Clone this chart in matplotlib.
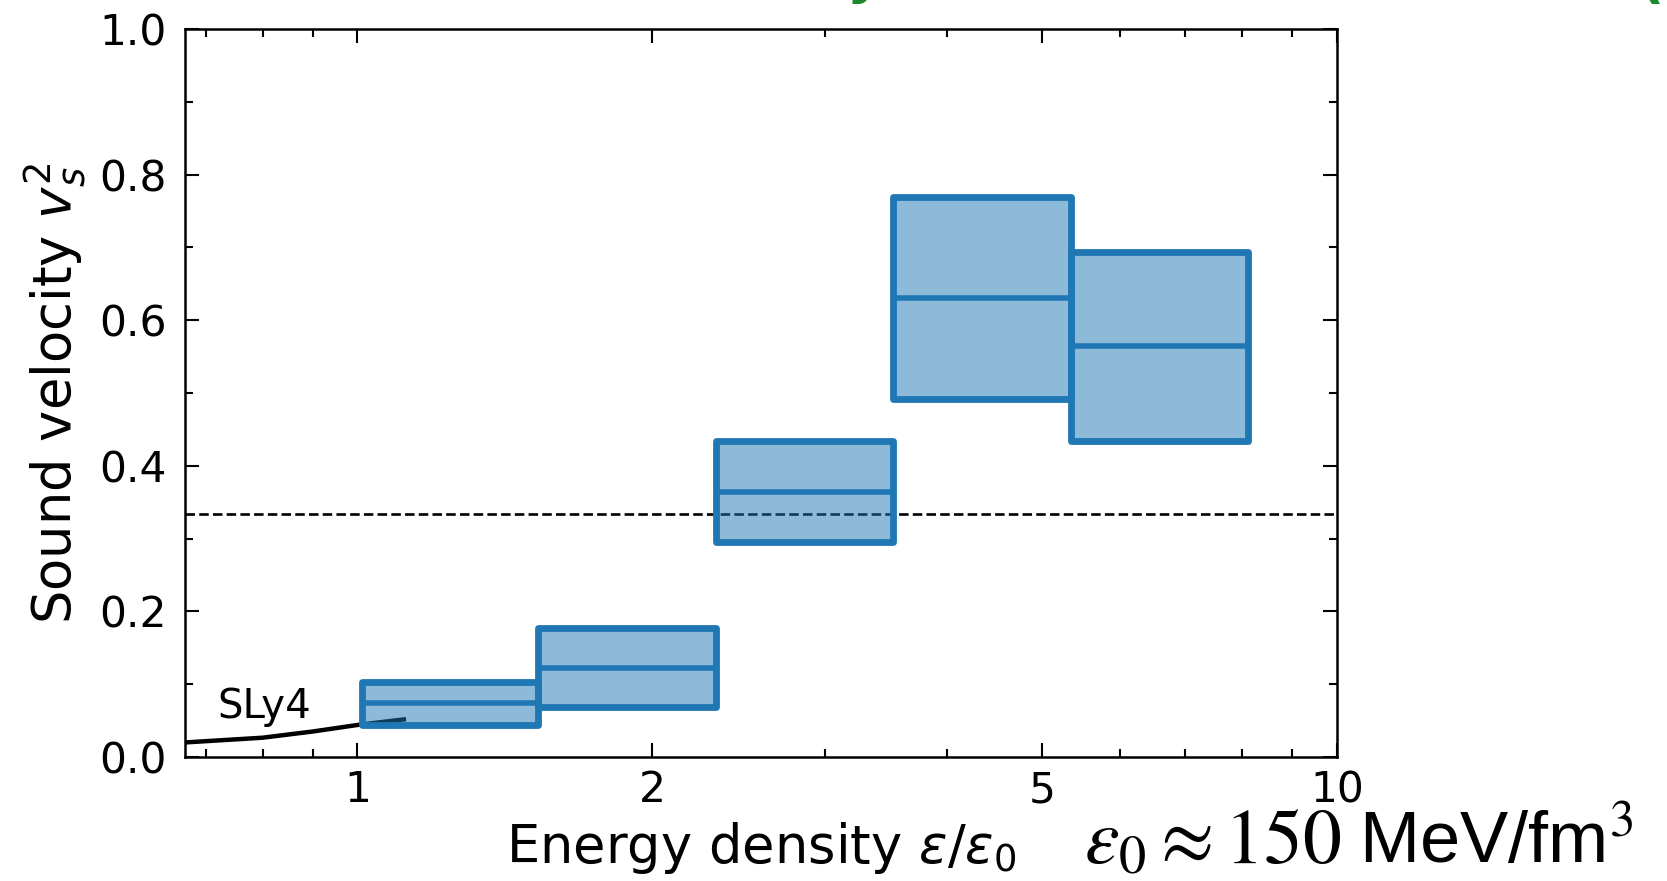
import matplotlib
matplotlib.use("Agg")
import matplotlib.pyplot as plt
from matplotlib.patches import Rectangle
from matplotlib.ticker import MultipleLocator, FixedLocator, NullFormatter

# ---- data ----
bin_edges = [1.01, 1.528, 2.323, 3.525, 5.35, 8.12]
vs2_low = [0.044, 0.068, 0.295, 0.492, 0.4345]
vs2_mid = [0.0737, 0.1227, 0.3644, 0.630, 0.5646]
vs2_high = [0.1034, 0.1768, 0.434, 0.7688, 0.694]

sly4_x = [0.667, 0.8, 0.9, 1.0, 1.121]
sly4_y = [0.020, 0.0265, 0.035, 0.044, 0.052]

conformal = 1.0 / 3.0
x_ticks = [1, 2, 5, 10]
x_ticklabels = ["1", "2", "5", "10"]
y_ticks = [0.0, 0.2, 0.4, 0.6, 0.8, 1.0]
y_ticklabels = ["0.0", "0.2", "0.4", "0.6", "0.8", "1.0"]

W, H = 1667, 881
fig = plt.figure(figsize=(W / 100, H / 100), dpi=100)
ax = fig.add_axes([185 / W, 1 - 757 / H, (1337 - 185) / W, (757 - 29) / H])
ax.set_xscale("log")
ax.set_xlim(2 / 3, 10)
ax.set_ylim(0, 1)

C0 = "#1f77b4"
ax.plot(sly4_x, sly4_y, color="black", lw=3.2, zorder=1, solid_capstyle="butt")
ax.text(0.719, 0.054, "SLy4", fontsize=29, ha="left", va="baseline")

ax.axhline(conformal, color="black", lw=1.9, ls=(0, (3.6, 1.6)), zorder=1.5)

for i in range(len(vs2_mid)):
    x0, x1 = bin_edges[i], bin_edges[i + 1]
    lo, hi, mid = vs2_low[i], vs2_high[i], vs2_mid[i]
    ax.add_patch(Rectangle((x0, lo), x1 - x0, hi - lo, facecolor=C0, alpha=0.5,
                           edgecolor="none", zorder=2))
    ax.add_patch(Rectangle((x0, lo), x1 - x0, hi - lo, fill=False, edgecolor=C0,
                           lw=4.9, joinstyle="round", zorder=3))
    ax.plot([x0, x1], [mid, mid], color=C0, lw=4.0, zorder=3, solid_capstyle="butt")

ax.xaxis.set_major_locator(FixedLocator(x_ticks))
ax.set_xticklabels(x_ticklabels)
ax.xaxis.set_minor_locator(FixedLocator([0.7, 0.8, 0.9, 3, 4, 6, 7, 8, 9]))
ax.xaxis.set_minor_formatter(NullFormatter())
ax.set_yticks(y_ticks)
ax.set_yticklabels(y_ticklabels)
ax.yaxis.set_minor_locator(MultipleLocator(0.1))

ax.tick_params(which="both", direction="in", top=True, right=True, width=1.5)
ax.tick_params(which="major", length=10)
ax.tick_params(which="minor", length=6)
ax.tick_params(axis="x", which="major", labelsize=30.5, pad=9)
ax.tick_params(axis="y", which="major", labelsize=30.5, pad=13)
for s in ax.spines.values():
    s.set_linewidth(1.8)

ax.set_ylabel(r"Sound velocity $v_s^2$", fontsize=38, labelpad=8)
ax.set_xlabel(r"Energy density $\varepsilon/\varepsilon_0$", fontsize=38, labelpad=6)

fig.text(1084 / W, 1 - 863 / H, r"$\varepsilon_0 \approx 150$", fontsize=56,
         math_fontfamily="stix", ha="left", va="baseline")
fig.text(1359 / W, 1 - 863 / H, r"MeV/fm$^3$", fontsize=52, family="Liberation Sans",
         math_fontfamily="stix", ha="left", va="baseline")

# partially visible green title glyphs at the top edge
fig.text(846 / W, 1 + 8 / H, "y", color="#1a8a2a", fontsize=40, fontweight="bold",
         ha="left", va="baseline")
fig.text(1638 / W, 1 + 3 / H, "(", color="#1a8a2a", fontsize=40, fontweight="bold",
         ha="left", va="baseline")

fig.savefig("out.png", dpi=100)
